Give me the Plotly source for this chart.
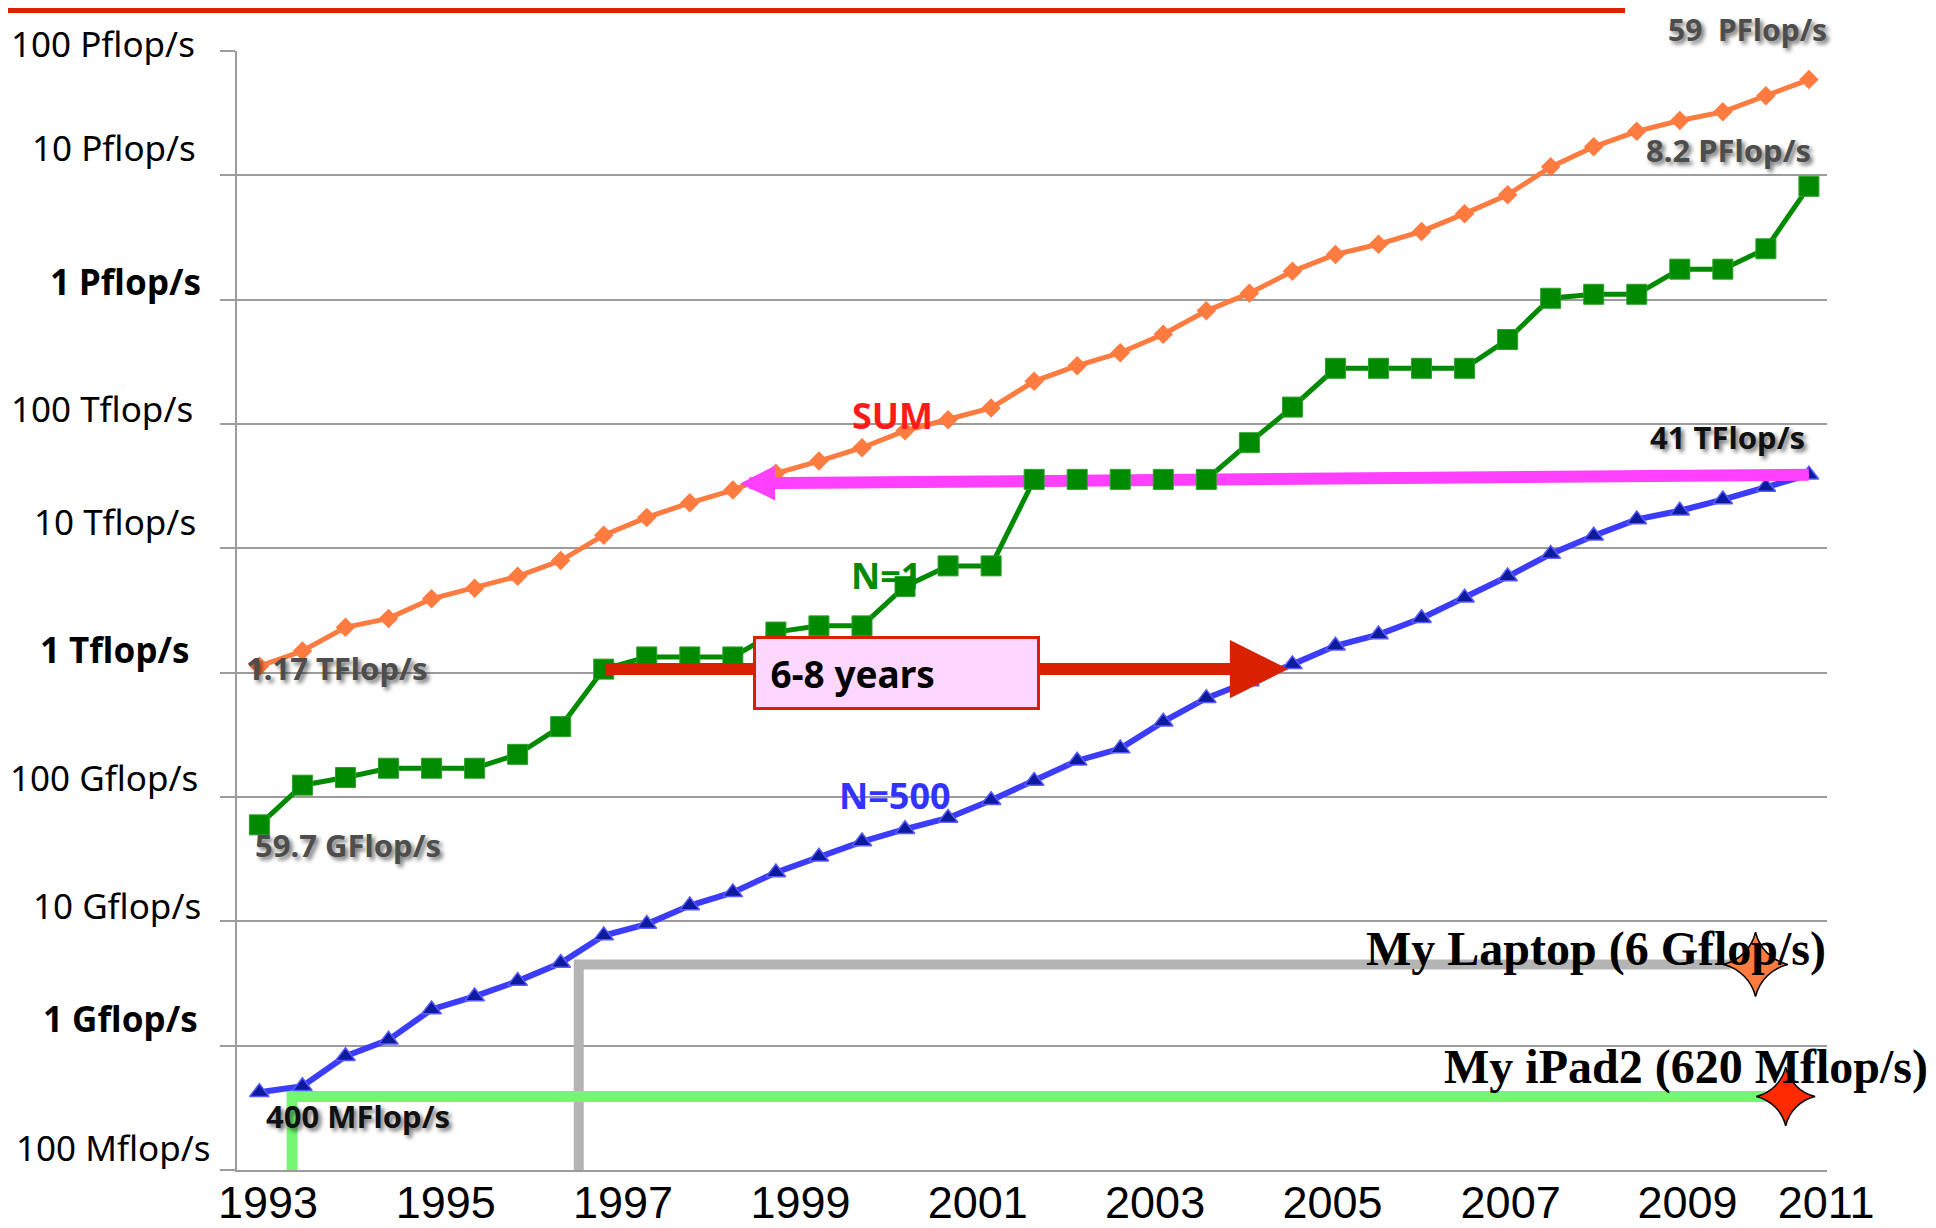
import numpy as np
import plotly.graph_objects as go

# ---------------- data (TOP500 lists, values in Gflop/s) ----------------
lists = ["1993-06", "1993-11", "1994-06", "1994-11", "1995-06", "1995-11", "1996-06", "1996-11",
         "1997-06", "1997-11", "1998-06", "1998-11", "1999-06", "1999-11", "2000-06", "2000-11",
         "2001-06", "2001-11", "2002-06", "2002-11", "2003-06", "2003-11", "2004-06", "2004-11",
         "2005-06", "2005-11", "2006-06", "2006-11", "2007-06", "2007-11", "2008-06", "2008-11",
         "2009-06", "2009-11", "2010-06", "2010-11", "2011-06"]

sum_gflops = [1128, 1493, 2317, 2732, 3927, 4784, 5959, 7977, 12770, 17730, 23220, 29430,
              40160, 50300, 64460, 88270, 108200, 134700, 220400, 294500, 374000, 527600,
              812900, 1125000, 1690000, 2312000, 2791000, 3541000, 4920000, 6970000,
              11700000, 16960000, 22600000, 27600000, 32400000, 43700000, 58900000]

n1_gflops = [59.7, 124.5, 143.4, 170.4, 170.4, 170.4, 220.4, 368.2, 1068, 1338, 1338, 1338,
             2121, 2379, 2379, 4938, 7226, 7226, 35860, 35860, 35860, 35860, 35860, 70720,
             136800, 280600, 280600, 280600, 280600, 478200, 1026000, 1105000, 1105000,
             1759000, 1759000, 2566000, 8162000]

n500_gflops = [0.422, 0.472, 0.822, 1.114, 1.955, 2.489, 3.306, 4.620, 7.68, 9.51, 13.4, 17.1,
               24.7, 33.1, 43.8, 55.1, 67.8, 94.3, 134.3, 195.8, 245.1, 403.4, 624, 850.6,
               1166, 1646, 2026, 2737, 4005, 5929, 9000, 12640, 17090, 20050, 24670, 31120,
               39090]

year_labels = ["1993", "1995", "1997", "1999", "2001", "2003", "2005", "2007", "2009", "2011"]
year_label_pos = [0.20, 4.33, 8.45, 12.57, 16.69, 20.81, 24.93, 29.07, 33.18, 36.40]

ytick_vals = [0.1, 1, 10, 100, 1e3, 1e4, 1e5, 1e6, 1e7, 1e8]
ytick_text = ["100 Mflop/s", "<b>1 Gflop/s</b>", "10 Gflop/s", "100 Gflop/s", "<b>1 Tflop/s</b>",
              "10 Tflop/s", "100 Tflop/s", "<b>1 Pflop/s</b>", "10 Pflop/s", "100 Pflop/s"]
# hand-placed label offsets in the original slide (px): right edge on the page, lift above grid
ytick_right_px = [212, 200, 203, 200, 192, 198, 195, 203, 198, 197]
ytick_lift_px = [23, 27, 16, 20, 23, 27, 16, 18, 28, 8]

# personal devices
laptop_path_idx = [7.42, 7.42, 34.18]
laptop_path_gflops = [0.1, 4.5, 4.5]
laptop_star = (34.76, 4.5)
ipad_path_idx = [0.76, 0.76, 35.3]
ipad_path_gflops = [0.1, 0.39, 0.39]
ipad_star = (35.46, 0.39)

# arrows
gap_start_idx, gap_end_idx = 8, 23.9          # "6-8 years" arrow at N=1 1997-06 level
back_tail_idx = 36                             # magenta arrow tail (last N=500)
back_tip_idx, back_tip_gflops = 11.17, 33300   # magenta arrow tip (on SUM curve)

x = list(range(len(lists)))

ORANGE = "#ff7b3f"
GREEN = "#008a00"
BLUE = "#3c3cff"
MAGENTA = "#ff40ff"
RED = "#d92000"
GRID = "#9c9c9c"

fig = go.Figure()

# L-shaped device lines
fig.add_trace(go.Scatter(x=laptop_path_idx, y=laptop_path_gflops, mode="lines",
                         line=dict(color="#b4b4b4", width=10), hoverinfo="skip"))
fig.add_trace(go.Scatter(x=ipad_path_idx, y=ipad_path_gflops, mode="lines",
                         line=dict(color="#73f773", width=11), hoverinfo="skip"))

# SUM
fig.add_trace(go.Scatter(x=x, y=sum_gflops, mode="lines+markers", name="SUM",
                         line=dict(color=ORANGE, width=5),
                         marker=dict(symbol="diamond", size=15, color=ORANGE)))
# N=500
fig.add_trace(go.Scatter(x=x, y=n500_gflops, mode="lines+markers", name="N=500",
                         line=dict(color=BLUE, width=6),
                         marker=dict(symbol="triangle-up", size=17, color="#0c1a9e",
                                     line=dict(color="#5a5aff", width=1.5))))
# N=1 line
fig.add_trace(go.Scatter(x=x, y=n1_gflops, mode="lines", name="N=1",
                         line=dict(color=GREEN, width=5)))

# magenta arrow shaft (drawn below N=1 markers)
lt, lp = np.log10(n500_gflops[back_tail_idx]), np.log10(back_tip_gflops)
shaft_end_idx = back_tip_idx + 1.0
frac = (back_tail_idx - shaft_end_idx) / (back_tail_idx - back_tip_idx)
shaft_end_log = lt + (lp - lt) * frac
fig.add_trace(go.Scatter(x=[back_tail_idx, shaft_end_idx],
                         y=[n500_gflops[back_tail_idx], 10 ** shaft_end_log],
                         mode="lines", line=dict(color=MAGENTA, width=12), hoverinfo="skip"))

# N=1 markers
fig.add_trace(go.Scatter(x=x, y=n1_gflops, mode="markers",
                         marker=dict(symbol="square", size=20, color=GREEN,
                                     line=dict(color="#2aa02a", width=1))))

# device stars
fig.add_trace(go.Scatter(x=[laptop_star[0]], y=[laptop_star[1]], mode="markers",
                         marker=dict(symbol="star-diamond", size=46, color=ORANGE,
                                     line=dict(color="black", width=1.5))))
fig.add_trace(go.Scatter(x=[ipad_star[0]], y=[ipad_star[1]], mode="markers",
                         marker=dict(symbol="star-diamond", size=42, color="#ff2a00",
                                     line=dict(color="black", width=1.5))))

# ---------------- layout ----------------
# page coordinates of the plot area (the page body adds an 8px offset)
OFF = 8
L, T, W, H = 237, 51, 1590, 1119
FIG_W, FIG_H = 1936 - OFF, 1228 - OFF


def pxx(v):
    return (v - L) / W


def pxy(v):
    return (T + H - v) / H


shadow = "3px 3px 4px rgba(0,0,0,0.55)"
lab_font = dict(family="Noto Sans", size=31, color="#4d4d4d", weight="bold", shadow=shadow)
blk_font = dict(family="Noto Sans", size=31, color="#111111", weight="bold", shadow=shadow)

annotations = []

# y-axis labels, placed as in the slide (slightly above their grid lines)
for val, txt, right, lift in zip(ytick_vals, ytick_text, ytick_right_px, ytick_lift_px):
    annotations.append(dict(text=txt, x=pxx(right), y=np.log10(val), xref="paper", yref="y",
                            xanchor="right", yanchor="middle", yshift=lift, showarrow=False,
                            font=dict(family="Noto Sans", size=35, color="black")))


def text_ann(text, cx, cy, font, xanchor="center"):
    annotations.append(dict(text=text, x=pxx(cx), y=pxy(cy), xref="paper", yref="paper",
                            xanchor=xanchor, yanchor="middle", showarrow=False, font=font))


text_ann("59&nbsp; PFlop/s", 1747, 30, dict(lab_font, size=30))
text_ann("8.2 PFlop/s", 1728, 150, lab_font)
text_ann("41 TFlop/s", 1727, 437, blk_font)
text_ann("1.17 TFlop/s", 337, 668, lab_font)
text_ann("59.7 GFlop/s", 348, 845, lab_font)
text_ann("400 MFlop/s", 358, 1116, blk_font)
text_ann("SUM", 892, 416, dict(family="Noto Sans", size=36, color="#ff1a1a", weight="bold"))
text_ann("N=1", 886, 575, dict(family="Noto Sans", size=36, color=GREEN, weight="bold"))
text_ann("N=500", 895, 795, dict(family="Noto Sans", size=36, color="#3333ff", weight="bold"))

# red "6-8 years" arrow
lvl = np.log10(n1_gflops[gap_start_idx])
annotations.append(dict(x=gap_end_idx, y=lvl, ax=gap_start_idx, ay=lvl, xref="x", yref="y",
                        axref="x", ayref="y", text="", showarrow=True, arrowhead=2,
                        arrowsize=0.97, arrowwidth=12, arrowcolor=RED))
# magenta arrow head
head_tail_idx = back_tip_idx + 1.1
frac2 = (back_tail_idx - head_tail_idx) / (back_tail_idx - back_tip_idx)
annotations.append(dict(x=back_tip_idx, y=lp, ax=head_tail_idx, ay=lt + (lp - lt) * frac2,
                        xref="x", yref="y", axref="x", ayref="y", text="", showarrow=True,
                        arrowhead=2, arrowsize=0.58, arrowwidth=12, arrowcolor=MAGENTA))
# box
annotations.append(dict(text="&nbsp;6-8 years", x=pxx(753), y=pxy(673), xref="paper", yref="paper",
                        xanchor="left", yanchor="middle", showarrow=False, align="left",
                        width=271, height=58, borderpad=5, borderwidth=3,
                        bordercolor=RED, bgcolor="#fdd7fd",
                        font=dict(family="Noto Sans", size=37, color="black", weight="bold")))

# device labels
dev_font = dict(family="Liberation Serif", size=48, color="black", weight="bold")
text_ann("My Laptop (6 Gflop/s)", 1596, 949, dev_font)
text_ann("My iPad2 (620 Mflop/s)", 1686, 1067, dev_font)

shapes = [dict(type="line", xref="paper", yref="paper", x0=pxx(0), x1=pxx(1625),
               y0=pxy(10.5), y1=pxy(10.5), line=dict(color="#dd2200", width=5))]

fig.update_layout(
    width=FIG_W, height=FIG_H,
    margin=dict(l=L - OFF, r=FIG_W - (L - OFF) - W, t=T - OFF, b=FIG_H - (T - OFF) - H),
    plot_bgcolor="white", paper_bgcolor="white", showlegend=False,
    annotations=annotations, shapes=shapes,
    xaxis=dict(range=[-0.52, 36.42], showgrid=False, zeroline=False, showline=True,
               linecolor=GRID, linewidth=2, tickmode="array", tickvals=year_label_pos,
               ticktext=year_labels, ticks="", ticklabelstandoff=-8,
               ticklabeloverflow="allow",
               tickfont=dict(family="Liberation Sans", size=45, color="black"),
               automargin=False),
    yaxis=dict(type="log", range=[-1, 8], showgrid=True, gridcolor=GRID, gridwidth=2,
               zeroline=False, showline=True, linecolor=GRID, linewidth=2,
               ticks="outside", ticklen=15, tickwidth=2, tickcolor=GRID,
               tickmode="array", tickvals=ytick_vals, showticklabels=False,
               automargin=False),
)

fig.write_html("out.html")
